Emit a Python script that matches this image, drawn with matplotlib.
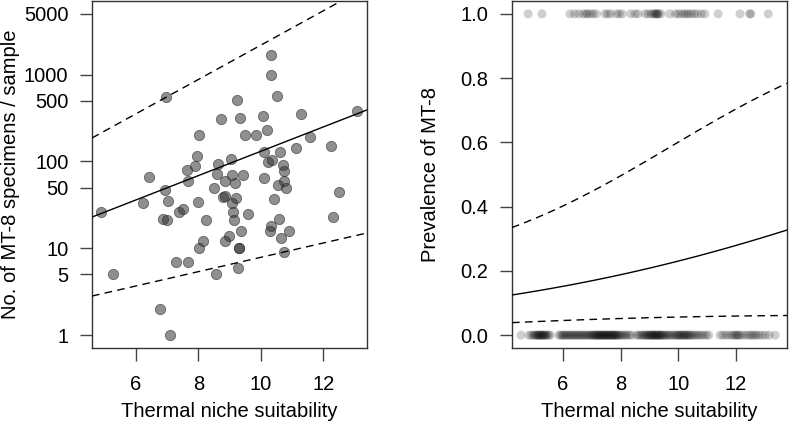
import numpy as np
import matplotlib
matplotlib.use("Agg")
import matplotlib.pyplot as plt

plt.rcParams['font.family'] = ['Liberation Sans', 'DejaVu Sans']

# ---- Left panel data: counts vs thermal niche suitability ----
count_x = [10.32, 10.32, 6.96, 10.52, 9.22, 8.73, 9.32, 10.06, 11.30, 13.07,
           10.19, 8.03, 9.48, 9.85, 11.58, 11.14, 12.25, 10.10, 10.61, 7.94,
           9.03, 10.24, 10.36, 7.88, 8.63, 10.72, 7.62, 10.75, 6.41, 8.61,
           9.06, 9.42, 7.67, 8.86, 9.17, 10.11, 10.75, 8.50, 10.56, 10.81,
           6.92, 12.51, 8.80, 8.84, 9.19, 10.42, 6.23, 7.01, 8.00, 9.08,
           4.88, 7.38, 7.52, 9.11, 9.59, 12.30, 6.88, 6.98, 8.24, 9.14,
           10.58, 10.32, 10.29, 9.37, 8.97, 8.86, 8.14, 8.03, 9.31, 9.31,
           10.64, 10.89, 10.74, 7.27, 7.68, 5.27, 8.57, 9.26, 6.77, 7.10]
count_y = [1684, 982, 548, 563, 503, 306, 315, 332, 353, 379,
           231, 203, 200, 204, 190, 144, 149, 128, 128, 116,
           108, 98, 103, 89, 93, 92, 80, 77, 67, 72,
           70, 70, 60, 59, 57, 64, 59, 50, 54, 50,
           47, 45, 39, 40, 38, 37, 33, 35, 34, 33,
           26, 26, 28, 26, 25, 23, 22, 21, 21, 21,
           22, 18, 16, 16, 14, 12, 12, 10, 10, 10,
           13, 16, 9, 7, 7, 5, 5, 6, 2, 1]

# log10(count) = intercept + slope * x
fit_line = (0.717, 0.140)
upper_line = (1.363, 0.1976)
lower_line = (0.072, 0.0824)

left_yticks = [1, 5, 10, 50, 100, 500, 1000, 5000]
left_xticks = [6, 8, 10, 12]

# ---- Right panel data: presence / absence ----
present_x = [4.79, 5.27, 6.24, 6.40, 6.55, 6.70, 6.80, 6.85, 6.95, 7.05, 7.15,
             7.45, 7.55, 7.65, 7.85, 7.95, 8.05, 8.35, 8.50, 8.60,
             8.85, 8.95, 9.05, 9.12, 9.18, 9.22, 9.25, 9.28, 9.32, 9.40,
             9.70, 9.90, 10.00, 10.10, 10.20, 10.28, 10.35, 10.45, 10.55, 10.65,
             10.80, 10.92, 11.38, 12.14, 12.47, 12.52, 13.12]
absent_x = [4.54, 4.82, 4.90, 4.97, 5.02, 5.06, 5.10, 5.13, 5.16, 5.19, 5.22, 5.25,
            5.28, 5.31, 5.34, 5.37, 5.41, 5.45, 5.50, 5.56,
            5.86, 5.92, 5.97, 6.02, 6.07, 6.12, 6.17, 6.22, 6.27, 6.32, 6.37, 6.42,
            6.47, 6.52, 6.57, 6.62, 6.67, 6.72, 6.77, 6.82, 6.87, 6.92, 6.96, 7.00,
            7.04, 7.08, 7.12, 7.15, 7.18, 7.21, 7.24, 7.27, 7.30, 7.33, 7.36, 7.39,
            7.42, 7.45, 7.48, 7.51, 7.54, 7.57, 7.60, 7.63, 7.66, 7.69, 7.72, 7.75,
            7.78, 7.81, 7.84, 7.87, 7.91, 7.95, 8.00, 8.05, 8.11, 8.17, 8.23, 8.30,
            8.38,
            8.55, 8.62, 8.68, 8.74, 8.79, 8.84, 8.88, 8.92, 8.96, 9.00, 9.03, 9.06,
            9.09, 9.12, 9.15, 9.18, 9.21, 9.24, 9.27, 9.30, 9.33, 9.36, 9.39, 9.42,
            9.46, 9.50, 9.55, 9.60, 9.65, 9.70, 9.76, 9.82, 9.88, 9.93, 9.97, 10.01,
            10.05, 10.09, 10.13, 10.17, 10.21, 10.25, 10.29, 10.33, 10.37, 10.42,
            10.47, 10.53, 10.59, 10.66, 10.73, 10.80, 10.88, 10.97, 11.05,
            11.45, 11.55, 11.65, 11.75, 11.85, 11.92, 11.98, 12.03, 12.08, 12.13,
            12.22, 12.32, 12.42, 12.50, 12.57, 12.64, 12.71, 12.80, 12.90, 13.02,
            13.15, 13.36]

# logit(p) = a + b x ; half width^2 = A + B (x - m)^2
logit_fit = (-2.489, 0.1284)
logit_halfwidth = (1.556, 0.0214, 3.0)

right_yticks = [0.0, 0.2, 0.4, 0.6, 0.8, 1.0]
right_xticks = [6, 8, 10, 12]

FS = 14.5
W, H = 789, 444
fig = plt.figure(figsize=(W / 100, H / 100), dpi=100)

def style(ax):
    for s in ax.spines.values():
        s.set_color('#333333')
        s.set_linewidth(1.0)
    ax.tick_params(direction='out', length=9, width=1.0, color='#444444',
                   labelsize=FS)
    ax.tick_params(axis='x', pad=10.5)
    ax.tick_params(axis='y', pad=8)

# Left axes
axL = fig.add_axes([92 / W, (H - 348) / H, 275 / W, 347 / H])
axL.set_yscale('log')
axL.scatter(count_x, count_y, s=55, facecolor=(0.2, 0.2, 0.2, 0.55),
            edgecolor=(0.15, 0.15, 0.15, 0.6), linewidth=0.6, zorder=3)
xl = np.array([4.59, 13.40])
xs = np.linspace(xl[0], xl[1], 50)
axL.plot(xs, 10 ** (fit_line[0] + fit_line[1] * xs), color='black', lw=1.0, zorder=4)
axL.plot(xs, 10 ** (upper_line[0] + upper_line[1] * xs), color='black', lw=1.0,
         dashes=(5.5, 3.8), zorder=4)
axL.plot(xs, 10 ** (lower_line[0] + lower_line[1] * xs), color='black', lw=1.0,
         dashes=(5.5, 3.8), zorder=4)
axL.set_xlim(xl)
axL.set_ylim(10 ** -0.148, 10 ** 3.847)
axL.set_yticks(left_yticks)
axL.set_yticklabels([str(v) for v in left_yticks])
axL.minorticks_off()
axL.set_xticks(left_xticks)
axL.set_xticklabels([str(v) for v in left_xticks])
style(axL)
axL.set_xlabel('Thermal niche suitability', fontsize=FS)
axL.set_ylabel('No. of MT-8 specimens / sample', fontsize=FS)
axL.xaxis.set_label_coords(0.5, -0.155)
axL.yaxis.set_label_coords(-0.262, 0.5)

# Right axes
axR = fig.add_axes([512 / W, (H - 348) / H, 275 / W, 347 / H])
axR.scatter(present_x, np.ones(len(present_x)), s=42, facecolor=(0, 0, 0, 0.19),
            edgecolor='none', zorder=3)
axR.scatter(absent_x, np.zeros(len(absent_x)), s=42, facecolor=(0, 0, 0, 0.19),
            edgecolor='none', zorder=3)
xr = np.array([4.23, 13.77])
xs2 = np.linspace(xr[0], xr[1], 100)
eta = logit_fit[0] + logit_fit[1] * xs2
hw = np.sqrt(logit_halfwidth[0] + logit_halfwidth[1] * (xs2 - logit_halfwidth[2]) ** 2)
expit = lambda z: 1 / (1 + np.exp(-z))
axR.plot(xs2, expit(eta), color='black', lw=1.0, zorder=4)
axR.plot(xs2, expit(eta + hw), color='black', lw=1.0, dashes=(5.5, 3.8), zorder=4)
axR.plot(xs2, expit(eta - hw), color='black', lw=1.0, dashes=(5.5, 3.8), zorder=4)
axR.set_xlim(xr)
axR.set_ylim(-0.04, 1.04)
axR.set_yticks(right_yticks)
axR.set_yticklabels([f'{v:.1f}' for v in right_yticks])
axR.set_xticks(right_xticks)
axR.set_xticklabels([str(v) for v in right_xticks])
style(axR)
axR.set_xlabel('Thermal niche suitability', fontsize=FS)
axR.set_ylabel('Prevalence of MT-8', fontsize=FS)
axR.xaxis.set_label_coords(0.5, -0.155)
axR.yaxis.set_label_coords(-0.262, 0.5)

fig.savefig('out.png', dpi=100)
